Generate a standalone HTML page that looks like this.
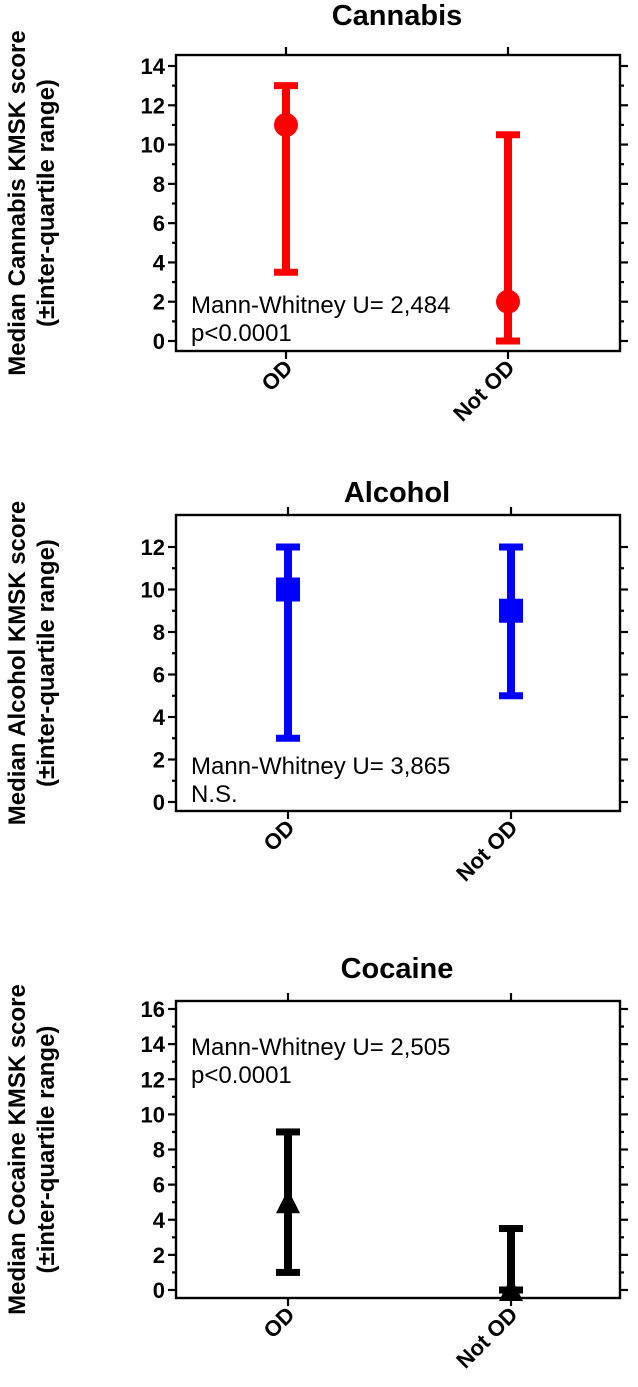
<!DOCTYPE html>
<html><head><meta charset="utf-8">
<style>
html,body{margin:0;padding:0;background:#fff;}
svg{display:block;font-family:"Liberation Sans",Arial,sans-serif;}
</style></head>
<body>
<svg id="fig" width="638" height="1387" viewBox="0 0 638 1387" xmlns="http://www.w3.org/2000/svg"></svg>
<script>
// Data
const categories = ["OD", "Not OD"];
const cannabisMedian = [11, 2];
const cannabisLow = [3.5, 0];
const cannabisHigh = [13, 10.5];
const alcoholMedian = [10, 9];
const alcoholLow = [3, 5];
const alcoholHigh = [12, 12];
const cocaineMedian = [5, 0];
const cocaineLow = [1, 0];
const cocaineHigh = [9, 3.5];
const cannabisTicks = ["0","2","4","6","8","10","12","14"];
const alcoholTicks = ["0","2","4","6","8","10","12"];
const cocaineTicks = ["0","2","4","6","8","10","12","14","16"];

const NS = "http://www.w3.org/2000/svg";
const svg = document.getElementById('fig');
function mk(tag, attrs, parent){
  const e = document.createElementNS(NS, tag);
  for (const k in attrs) e.setAttribute(k, attrs[k]);
  (parent||svg).appendChild(e);
  return e;
}

const panels = [
  {key:"cannabis", title:"Cannabis", ylab1:"Median Cannabis KMSK score", color:"#ff0000", marker:"circle",
   med:cannabisMedian, lo:cannabisLow, hi:cannabisHigh, ticks:cannabisTicks,
   top:55, bottom:351, y0:341, yTopVal:14, yTopPix:66, minorStep:1, titleY:25,
   ann:["Mann-Whitney U= 2,484","p<0.0001"], annY:313, xs:[286,508]},
  {key:"alcohol", title:"Alcohol", ylab1:"Median Alcohol KMSK score", color:"#0000ff", marker:"square",
   med:alcoholMedian, lo:alcoholLow, hi:alcoholHigh, ticks:alcoholTicks,
   top:515, bottom:811, y0:802, yTopVal:12, yTopPix:547, minorStep:1, titleY:502,
   ann:["Mann-Whitney U= 3,865","N.S."], annY:774, xs:[288,511]},
  {key:"cocaine", title:"Cocaine", ylab1:"Median Cocaine KMSK score", color:"#000000", marker:"triangle",
   med:cocaineMedian, lo:cocaineLow, hi:cocaineHigh, ticks:cocaineTicks,
   top:1001, bottom:1298, y0:1290, yTopVal:16, yTopPix:1009, minorStep:1, titleY:978,
   ann:["Mann-Whitney U= 2,505","p<0.0001"], annY:1055, xs:[288,511]}
];

panels.forEach(p => {
  const L = 176, R = 620;
  const yScale = v => p.y0 - (p.y0 - p.yTopPix) * v / p.yTopVal;
  const g = mk('g', {});
  
  

  const t = mk('text', {x:397, y:p.titleY, 'text-anchor':'middle', 'font-size':'29', 'font-weight':'bold'}, g);
  t.textContent = p.title;
  
  

  const cy = (p.top + p.bottom) / 2;
  const yt = mk('text', {transform:`translate(25,${cy}) rotate(-90)`, 'text-anchor':'middle', 'font-size':'24', 'font-weight':'bold'}, g);
  yt.textContent = p.ylab1;
  
  
  const yt2 = mk('text', {transform:`translate(54,${cy}) rotate(-90)`, 'text-anchor':'middle', 'font-size':'24', 'font-weight':'bold'}, g);
  yt2.textContent = "(\u00B1inter-quartile range)";
  
  

  const fr = mk('rect', {x:L, y:p.top, width:R-L, height:p.bottom-p.top, fill:'none', stroke:'#000', 'stroke-width':'2.4'}, g);
  
  

  for (let v = 0; v <= p.yTopVal; v += p.minorStep) {
    const y = yScale(v);
    const major = v % 2 === 0;
    const len = major ? 8 : 4;
    mk('line', {x1:L-len, x2:L, y1:y, y2:y, stroke:'#000', 'stroke-width':'2.2'}, g);
    mk('line', {x1:R, x2:R+len, y1:y, y2:y, stroke:'#000', 'stroke-width':'2.2'}, g);
  }
  p.ticks.forEach(lbl => {
    const y = yScale(parseFloat(lbl));
    const tl = mk('text', {x:165, y:y+8, 'text-anchor':'end', 'font-size':'22', 'font-weight':'bold'}, g);
    tl.textContent = lbl;
    
    
  });

  categories.forEach((c, i) => {
    const x = p.xs[i];
    mk('line', {x1:x, x2:x, y1:p.top-8, y2:p.top, stroke:'#000', 'stroke-width':'2.2'}, g);
    mk('line', {x1:x, x2:x, y1:p.bottom, y2:p.bottom+8, stroke:'#000', 'stroke-width':'2.2'}, g);
    const xl = mk('text', {transform:`translate(${x+8},${p.bottom+18}) rotate(-45)`, 'text-anchor':'end', 'font-size':'22', 'font-weight':'bold'}, g);
    xl.textContent = c;
    
    
  });

  p.ann.forEach((a, k) => {
    const at = mk('text', {x:191, y:p.annY + k*28, 'font-size':'24'}, g);
    at.textContent = a;
    
    
  });

  categories.forEach((c, i) => {
    const x = p.xs[i];
    const eg = mk('g', {fill:p.color, stroke:'none'}, g);
    
    
    const yh = yScale(p.hi[i]), yl = yScale(p.lo[i]), ym = yScale(p.med[i]);
    mk('rect', {x:x-4, y:yh, width:8, height:yl-yh}, eg);
    mk('rect', {x:x-12, y:yh-3.5, width:24, height:7}, eg);
    mk('rect', {x:x-12, y:yl-3.5, width:24, height:7}, eg);
    let m;
    if (p.marker === 'circle') m = mk('circle', {cx:x, cy:ym, r:12}, eg);
    else if (p.marker === 'square') m = mk('rect', {x:x-12, y:ym-12, width:24, height:24}, eg);
    else m = mk('polygon', {points:`${x},${ym-13} ${x-12},${ym+11} ${x+12},${ym+11}`}, eg);
    
    
  });
});
</script>
</body></html>
